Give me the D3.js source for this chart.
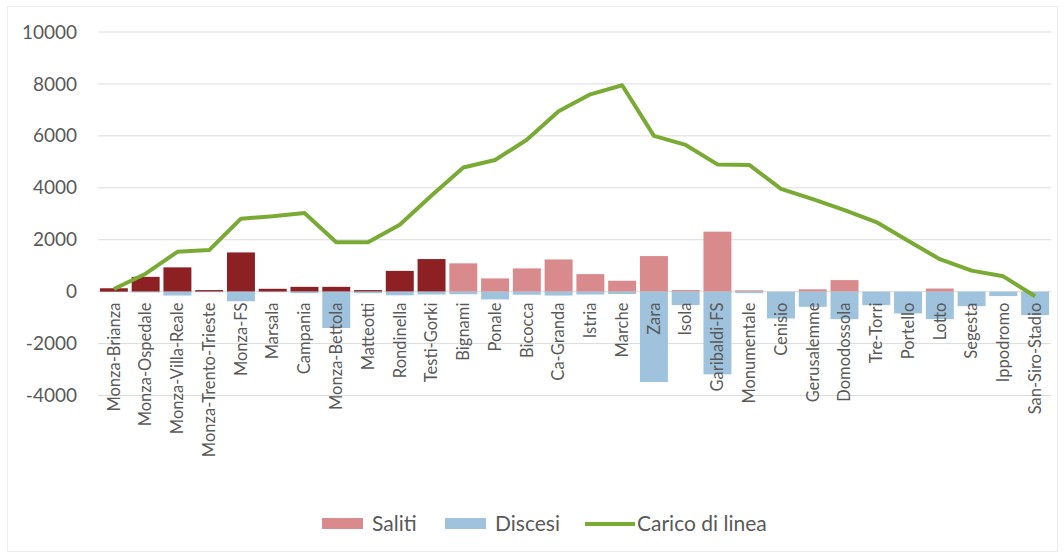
<!DOCTYPE html>
<html>
<head>
<meta charset="utf-8">
<script src="https://cdn.jsdelivr.net/npm/d3@7/dist/d3.min.js"></script>
<style>
  html, body { margin: 0; padding: 0; background: #ffffff; }
  svg { display: block; }
  text { font-family: Lato, "Open Sans", sans-serif; fill: #595959; }
</style>
</head>
<body>
<svg id="chart" width="1064" height="557"></svg>
<script>
// Stazioni della linea M5 (Monza-Brianza -> San-Siro-Stadio)
const stations = [
  "Monza-Brianza", "Monza-Ospedale", "Monza-Villa-Reale", "Monza-Trento-Trieste",
  "Monza-FS", "Marsala", "Campania", "Monza-Bettola", "Matteotti", "Rondinella",
  "Testi-Gorki", "Bignami", "Ponale", "Bicocca", "Ca-Granda", "Istria", "Marche",
  "Zara", "Isola", "Garibaldi-FS", "Monumentale", "Cenisio", "Gerusalemme",
  "Domodossola", "Tre-Torri", "Portello", "Lotto", "Segesta", "Ippodromo",
  "San-Siro-Stadio"
];

// Passeggeri saliti per stazione
const saliti = [
  130, 570, 935, 60, 1510, 110, 185, 185, 60, 800,
  1255, 1090, 510, 895, 1240, 675, 420, 1370, 60, 2310,
  50, 0, 90, 445, 0, 0, 120, 0, 0, 0
];

// Passeggeri discesi per stazione (negativi)
const discesi = [
  0, -30, -150, -20, -370, -20, -60, -1400, -60, -140,
  -110, -100, -300, -120, -150, -110, -90, -3480, -520, -3185,
  -60, -1035, -585, -1060, -520, -840, -1060, -560, -170, -905
];

// Carico di linea dopo ogni stazione
const carico = [
  100, 690, 1535, 1600, 2810, 2900, 3030, 1900, 1900, 2580,
  3700, 4780, 5070, 5850, 6950, 7600, 7950, 6000, 5650, 4900,
  4880, 3960, 3560, 3140, 2680, 1960, 1250, 810, 590, -180
];

const yTicks = [-4000, -2000, 0, 2000, 4000, 6000, 8000, 10000];

// Numero di stazioni della tratta nuova (Monza) evidenziate in colore scuro
const monzaStations = 11;

const legendItems = ["Saliti", "Discesi", "Carico di linea"];

const colors = {
  salitiMonza: "#8c2022",
  saliti: "#d98a8c",
  discesi: "#9fc2dd",
  carico: "#79ab34",
  grid: "#dcdcdc"
};

const svg = d3.select("#chart");

// Cornice esterna leggera
svg.append("rect")
  .attr("x", 7.5).attr("y", 6.5)
  .attr("width", 1050).attr("height", 545)
  .attr("fill", "none")
  .attr("stroke", "#ececec");

const x = d3.scaleBand()
  .domain(stations)
  .range([98, 1051])
  .paddingInner(0.12)
  .paddingOuter(0.06);

const y = d3.scaleLinear()
  .domain([-4000, 10000])
  .range([395.5, 32]);

// Griglia orizzontale
svg.append("g")
  .selectAll("line")
  .data(yTicks)
  .join("line")
  .attr("x1", 98).attr("x2", 1051)
  .attr("y1", d => y(d)).attr("y2", d => y(d))
  .attr("stroke", colors.grid)
  .attr("stroke-width", 1);

// Etichette asse Y (trattino semplice come segno meno)
const yAxis = d3.axisLeft(y).tickValues(yTicks).tickSize(0).tickPadding(0)
  .tickFormat(d => String(d));
svg.append("g")
  .attr("transform", "translate(77,0)")
  .call(yAxis)
  .call(g => g.select(".domain").remove())
  .call(g => g.selectAll("text")
    .style("font-size", "19px")
    .attr("fill", "#595959"));

// Barre: saliti (positivi)
svg.append("g")
  .selectAll("rect")
  .data(stations)
  .join("rect")
  .attr("x", d => x(d))
  .attr("width", x.bandwidth())
  .attr("y", (d, i) => y(saliti[i]))
  .attr("height", (d, i) => y(0) - y(saliti[i]))
  .attr("fill", (d, i) => i < monzaStations ? colors.salitiMonza : colors.saliti);

// Barre: discesi (negativi)
svg.append("g")
  .selectAll("rect")
  .data(stations)
  .join("rect")
  .attr("x", d => x(d))
  .attr("width", x.bandwidth())
  .attr("y", y(0))
  .attr("height", (d, i) => y(discesi[i]) - y(0))
  .attr("fill", colors.discesi);

// Etichette asse X (ruotate)
const xAxis = d3.axisBottom(x).tickSize(0).tickPadding(0);
svg.append("g")
  .attr("transform", `translate(0,${y(0)})`)
  .call(xAxis)
  .call(g => g.select(".domain").remove())
  .call(g => g.selectAll("text")
    .style("font-size", "16.5px")
    .attr("fill", "#595959")
    .attr("text-anchor", "end")
    .attr("transform", "rotate(-90)")
    .attr("x", -11)
    .attr("y", 0)
    .attr("dy", "0.35em"));

// Linea del carico
const line = d3.line()
  .x((d, i) => x(stations[i]) + x.bandwidth() / 2)
  .y(d => y(d));

svg.append("path")
  .datum(carico)
  .attr("d", line)
  .attr("fill", "none")
  .attr("stroke", colors.carico)
  .attr("stroke-width", 4)
  .attr("stroke-linejoin", "round");

// Legenda
const legend = svg.append("g").attr("transform", "translate(0,524)");
const legendX = [322, 445, 585];
legendItems.forEach((name, i) => {
  const g = legend.append("g").attr("transform", `translate(${legendX[i]},0)`);
  if (i < 2) {
    g.append("rect")
      .attr("x", 0).attr("y", -6)
      .attr("width", 41).attr("height", 11)
      .attr("fill", i === 0 ? colors.saliti : colors.discesi);
  } else {
    g.append("line")
      .attr("x1", 0).attr("x2", 50)
      .attr("y1", 0).attr("y2", 0)
      .attr("stroke", colors.carico)
      .attr("stroke-width", 4);
  }
  g.append("text")
    .attr("x", i < 2 ? 50 : 52)
    .attr("y", 0)
    .attr("dy", "0.35em")
    .style("font-size", "21px")
    .text(name);
});
</script>
</body>
</html>
